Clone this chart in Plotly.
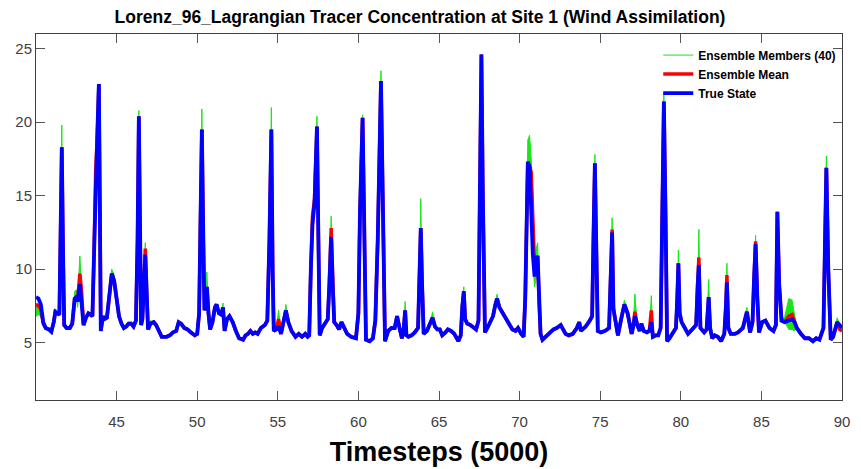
import plotly.graph_objects as go

# ---------------- data ----------------
time = [40.0, 40.15, 40.3, 40.45, 40.6, 40.8, 40.95, 41.1, 41.2, 41.35, 41.45, 41.52, 41.6, 41.68, 41.75,
        41.9, 42.1, 42.25, 42.4, 42.5, 42.58, 42.72, 42.82, 42.95, 43.1, 43.25, 43.4, 43.5, 43.6, 43.7,
        43.8, 43.9, 43.97, 44.02, 44.15, 44.25, 44.4, 44.55, 44.7, 44.85, 45.0, 45.15, 45.3, 45.45, 45.6,
        45.75, 45.9, 46.05, 46.2, 46.3, 46.38, 46.45, 46.52, 46.6, 46.68, 46.78, 46.88, 46.95, 47.1, 47.3,
        47.45, 47.6, 47.8, 48.1, 48.3, 48.5, 48.7, 48.85, 49.0, 49.2, 49.4, 49.6, 49.85, 50.0, 50.12,
        50.2, 50.29, 50.38, 50.45, 50.52, 50.6, 50.7, 50.8, 50.95, 51.1, 51.2, 51.35, 51.5, 51.6, 51.7,
        51.85, 52.0, 52.2, 52.4, 52.6, 52.85, 53.0, 53.15, 53.3, 53.45, 53.6, 53.75, 53.95, 54.2, 54.35,
        54.48, 54.6, 54.68, 54.75, 54.9, 55.05, 55.2, 55.35, 55.5, 55.65, 55.85, 56.1, 56.3, 56.5, 56.7,
        56.85, 56.95, 57.05, 57.15, 57.28, 57.43, 57.52, 57.6, 57.75, 57.95, 58.1, 58.2, 58.31, 58.42, 58.5,
        58.65, 58.8, 58.95, 59.1, 59.3, 59.55, 59.85, 60.0, 60.1, 60.26, 60.38, 60.47, 60.7, 60.9, 61.05,
        61.2, 61.4, 61.55, 61.65, 61.85, 62.05, 62.25, 62.4, 62.55, 62.7, 62.8, 62.9, 62.98, 63.1, 63.3,
        63.5, 63.7, 63.8, 63.87, 63.95, 64.05, 64.25, 64.45, 64.6, 64.75, 64.9, 65.05, 65.2, 65.4, 65.55,
        65.75, 65.95, 66.2, 66.35, 66.45, 66.54, 66.62, 66.75, 66.95, 67.1, 67.3, 67.45, 67.55, 67.63, 67.72,
        67.85, 68.0, 68.15, 68.35, 68.5, 68.6, 68.75, 68.95, 69.15, 69.35, 69.55, 69.75, 69.9, 70.1, 70.25,
        70.35, 70.45, 70.51, 70.62, 70.72, 70.82, 70.93, 71.05, 71.12, 71.2, 71.3, 71.42, 71.6, 71.85, 72.1,
        72.3, 72.55, 72.7, 72.85, 73.05, 73.3, 73.55, 73.7, 73.8, 73.9, 74.1, 74.35, 74.5, 74.58, 74.67,
        74.75, 74.85, 75.05, 75.3, 75.55, 75.65, 75.74, 75.82, 75.95, 76.1, 76.3, 76.5, 76.7, 76.85, 76.95,
        77.05, 77.15, 77.3, 77.45, 77.55, 77.7, 77.9, 78.05, 78.17, 78.27, 78.45, 78.6, 78.75, 78.85, 78.95,
        79.05, 79.15, 79.3, 79.5, 79.7, 79.78, 79.85, 79.93, 80.05, 80.25, 80.45, 80.7, 80.95, 81.05, 81.12,
        81.22, 81.45, 81.6, 81.73, 81.82, 81.95, 82.1, 82.3, 82.5, 82.7, 82.8, 82.86, 82.95, 83.1, 83.35,
        83.55, 83.85, 84.1, 84.3, 84.45, 84.55, 84.64, 84.75, 84.85, 85.05, 85.25, 85.5, 85.75, 85.9, 85.99,
        86.1, 86.25, 86.45, 86.7, 86.9, 87.05, 87.2, 87.45, 87.7, 87.95, 88.2, 88.4, 88.6, 88.85, 88.95,
        89.03, 89.15, 89.3, 89.45, 89.6, 89.7, 89.85, 90.0]

true_state = [8.1, 8.0, 7.6, 6.4, 6.0, 5.9, 5.75, 6.4, 7.1, 7.0, 6.9, 12.0, 18.3, 11.0, 6.2,
              6.0, 6.0, 6.3, 8.0, 8.1, 7.8, 9.0, 8.0, 6.2, 6.7, 7.0, 6.9, 6.8, 11.0, 16.1,
              19.0, 22.6, 14.0, 5.8, 6.8, 6.6, 6.7, 8.5, 9.7, 9.2, 7.8, 6.8, 6.3, 6.0, 6.1,
              6.3, 6.3, 6.1, 6.5, 12.0, 20.4, 13.0, 6.2, 6.6, 9.0, 11.0, 8.0, 5.9, 6.3, 6.4,
              6.2, 5.8, 5.4, 5.4, 5.5, 5.7, 5.8, 6.4, 6.3, 6.0, 5.9, 5.7, 5.5, 5.6, 7.0,
              13.0, 19.5, 12.0, 7.2, 7.7, 8.8, 7.0, 5.9, 6.4, 7.4, 7.6, 7.0, 6.9, 7.4, 5.8,
              6.6, 6.8, 6.4, 5.8, 5.3, 5.2, 5.5, 5.6, 5.8, 5.6, 5.7, 5.6, 6.0, 6.2, 6.5,
              12.0, 19.5, 10.0, 5.8, 5.9, 6.1, 5.6, 6.3, 7.2, 6.4, 5.8, 5.4, 5.6, 5.4, 5.6,
              5.4, 5.5, 10.0, 13.0, 14.5, 19.7, 12.0, 5.5, 6.0, 6.4, 6.6, 9.0, 12.2, 8.5, 6.4,
              6.2, 5.9, 6.4, 6.0, 5.6, 5.4, 5.3, 7.0, 14.0, 20.3, 10.0, 5.2, 5.1, 5.3, 6.5,
              12.0, 22.8, 12.0, 5.1, 5.8, 6.0, 6.0, 6.8, 6.0, 5.3, 5.8, 7.2, 5.5, 5.4, 5.5,
              5.7, 6.0, 10.0, 12.8, 9.0, 5.6, 5.8, 6.3, 6.7, 6.1, 5.9, 5.9, 5.5, 5.7, 5.9,
              5.8, 5.6, 5.1, 5.5, 7.5, 8.5, 6.6, 6.3, 6.2, 6.1, 5.9, 6.5, 15.0, 24.6, 15.0,
              5.7, 6.0, 6.4, 6.8, 7.6, 8.0, 7.4, 7.0, 6.6, 6.2, 5.9, 5.8, 6.0, 5.6, 5.4,
              8.0, 15.0, 17.3, 17.0, 14.0, 11.0, 9.5, 10.8, 10.8, 8.0, 5.6, 5.2, 5.4, 5.7, 5.9,
              6.0, 6.2, 5.9, 5.6, 5.5, 5.6, 6.0, 6.4, 5.8, 5.9, 6.1, 6.5, 6.8, 12.0, 17.2,
              12.0, 5.8, 5.7, 5.8, 6.0, 9.0, 12.5, 7.3, 6.5, 5.5, 6.6, 7.6, 7.0, 6.1, 5.6,
              6.1, 6.8, 6.2, 5.8, 6.3, 5.8, 5.7, 5.8, 6.4, 5.4, 5.5, 5.5, 6.0, 14.0, 21.4,
              14.0, 5.1, 5.3, 5.6, 6.0, 8.0, 10.4, 7.0, 6.4, 6.0, 5.6, 5.9, 6.2, 9.0, 10.3,
              6.0, 5.7, 5.9, 8.1, 6.0, 5.3, 5.5, 5.4, 5.1, 5.6, 7.5, 9.1, 6.0, 5.6, 5.6,
              5.7, 6.0, 7.1, 5.7, 6.4, 9.5, 11.7, 8.0, 5.7, 6.4, 6.5, 6.0, 5.8, 6.2, 13.9,
              9.0, 6.5, 6.4, 6.5, 6.6, 6.4, 6.0, 5.6, 5.3, 5.3, 5.1, 5.3, 5.2, 6.0, 12.0,
              16.9, 10.0, 5.2, 5.4, 6.0, 6.4, 6.2, 6.0]

# ensemble mean: equal to the true state except where the red line shows
mean_times = [40.0, 40.15, 40.3, 40.45, 42.72, 42.82, 43.7, 46.78, 55.05, 57.15, 57.28, 58.31, 58.42,
              70.72, 70.82, 70.93, 75.74, 77.15, 78.17, 81.12, 82.86, 84.64, 86.7, 86.9, 89.85, 90.0]
mean_values = [7.6, 7.5, 7.3, 6.3, 9.7, 8.6, 16.6, 11.4, 6.6, 13.6, 14.8, 12.8, 9.0,
               16.6, 13.5, 10.2, 12.7, 7.1, 7.2, 10.8, 9.6, 11.9, 6.8, 6.9, 5.9, 5.8]

# ensemble members (40): upper and lower envelope where the green lines show
ens_max_times = [40.0, 40.15, 40.3, 40.45, 41.2, 41.6, 42.4, 42.5, 42.72, 42.82, 44.7, 44.85, 46.38,
                 46.78, 47.1, 50.29, 50.6, 51.6, 54.6, 55.05, 55.5, 57.43, 58.31, 60.26, 61.4, 62.9,
                 63.87, 64.6, 66.54, 68.6, 70.51, 70.62, 70.72, 70.82, 71.05, 71.12, 74.67, 75.74,
                 75.82, 76.5, 77.15, 78.17, 78.95, 79.85, 81.12, 81.73, 82.86, 84.1, 84.64, 86.45,
                 86.7, 86.9, 87.05, 89.03, 89.7]
ens_max_values = [7.7, 7.6, 7.4, 6.4, 7.3, 19.8, 8.5, 8.6, 10.9, 9.2, 10.0, 9.6, 20.8,
                  11.8, 6.5, 20.9, 9.8, 7.7, 21.0, 7.2, 7.6, 20.4, 13.6, 20.5, 23.5, 7.8,
                  14.8, 7.1, 8.8, 8.3, 18.8, 19.1, 17.5, 15.0, 11.5, 11.8, 17.8, 13.5,
                  8.5, 7.9, 8.3, 8.2, 22.0, 11.3, 12.7, 9.3, 10.4, 7.4, 12.3, 6.8,
                  8.0, 7.9, 6.9, 17.7, 6.7]
ens_min_times = [40.0, 40.15, 40.3, 40.45, 42.58, 70.82, 70.93, 71.05, 86.7, 86.9, 87.05]
ens_min_values = [6.8, 6.9, 6.8, 6.1, 7.4, 10.5, 8.8, 9.5, 5.9, 5.9, 5.8]

x_ticks = [45, 50, 55, 60, 65, 70, 75, 80, 85, 90]
y_ticks = [5, 10, 15, 20, 25]


def with_overrides(base, times, values):
    lookup = {round(t, 3): v for t, v in zip(times, values)}
    return [lookup.get(round(t, 3), b) for t, b in zip(time, base)]


ens_mean = with_overrides(true_state, mean_times, mean_values)
ens_max = with_overrides(true_state, ens_max_times, ens_max_values)
ens_min = with_overrides(true_state, ens_min_times, ens_min_values)

FONT = "Liberation Sans, Arial, sans-serif"
GREEN = "#19e619"

fig = go.Figure()
fig.add_trace(go.Scatter(x=time, y=ens_min, mode="lines", name="<b>Ensemble Members (40)</b>",
                         line=dict(color=GREEN, width=1)))
fig.add_trace(go.Scatter(x=time, y=ens_max, mode="lines", showlegend=False, fill="tonexty",
                         fillcolor=GREEN, line=dict(color=GREEN, width=1)))
fig.add_trace(go.Scatter(x=time, y=ens_mean, mode="lines", name="<b>Ensemble Mean</b>",
                         line=dict(color="#ff0000", width=3.5)))
fig.add_trace(go.Scatter(x=time, y=true_state, mode="lines", name="<b>True State</b>",
                         line=dict(color="#0000ff", width=3.8)))

axis_common = dict(showline=True, linecolor="#404040", linewidth=1, mirror="ticks",
                   ticks="inside", ticklen=9, tickcolor="#555555", showgrid=False,
                   zeroline=False, automargin=False,
                   tickfont=dict(family=FONT, size=15, color="#404040"))

fig.update_layout(
    width=861, height=469,
    margin=dict(l=36, r=19, t=34, b=69),
    paper_bgcolor="white", plot_bgcolor="white",
    title=dict(text="<b>Lorenz_96_Lagrangian Tracer Concentration at Site 1 (Wind Assimilation)</b>",
               x=420 / 861, xanchor="center", y=0.978, yanchor="top",
               font=dict(family=FONT, size=17.5, color="black")),
    xaxis=dict(range=[40, 90], tickvals=x_ticks, ticklabelstandoff=8,
               title=dict(text="<b>Timesteps (5000)</b>", standoff=13,
                          font=dict(family=FONT, size=27, color="black")),
               **axis_common),
    yaxis=dict(range=[1.1, 26.0], tickvals=y_ticks, **axis_common),
    legend=dict(x=0.772, xanchor="left", y=0.982, yanchor="top", bgcolor="rgba(0,0,0,0)",
                font=dict(family=FONT, size=12, color="black"), itemwidth=30,
                tracegroupgap=0, traceorder="normal"),
    showlegend=True,
)

fig.write_html("out.html")
